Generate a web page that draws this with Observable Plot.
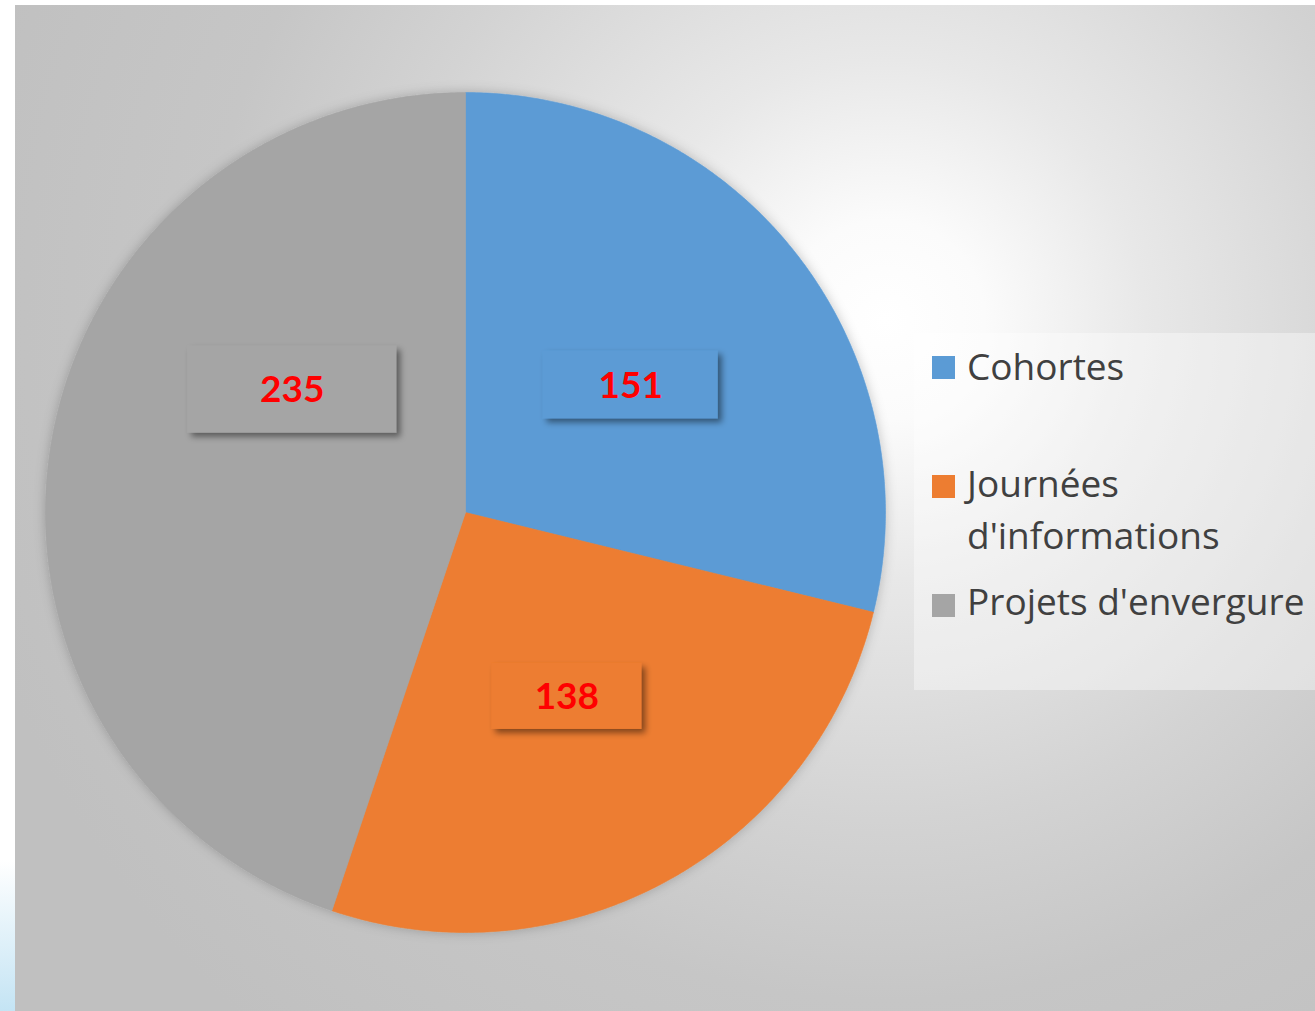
<!DOCTYPE html>
<html>
<head>
<meta charset="utf-8">
<script src="https://cdn.jsdelivr.net/npm/d3@7"></script>
<script src="https://cdn.jsdelivr.net/npm/@observablehq/plot@0.6"></script>
<style>
  html, body { margin: 0; padding: 0; background: #ffffff; }
  #page { position: relative; width: 1315px; height: 1011px; overflow: hidden; }
  #edge { position: absolute; left: 0; top: 860px; width: 15px; height: 151px;
          background: linear-gradient(to bottom, #ffffff, #c4e4f4); }
  #bg { position: absolute; left: 15px; top: 5px; width: 1300px; height: 1006px;
        background: radial-gradient(circle at 870px 315px, #ffffff 0px, #fbfbfb 100px, #e8e8e8 260px, #d3d3d3 500px, #c6c6c6 680px, #c0c0c0 950px); }
  #chart { position: absolute; left: 0; top: 0; }
  #legend { position: absolute; left: 914px; top: 333px; width: 401px; height: 357px;
            background: rgba(255,255,255,0.38); }
  .sw { position: absolute; left: 18px; width: 23px; height: 23px; }
  .lab { position: absolute; left: 53px; width: 348px; font-family: "Open Sans", sans-serif;
         font-size: 37px; line-height: 52px; color: #404040; white-space: normal; }
</style>
</head>
<body>
<div id="page">
  <div id="edge"></div>
  <div id="bg"></div>
  <div id="chart"></div>
  <div id="legend"></div>
</div>
<script>
// ---- data ----
const categories = ["Cohortes", "Journées d'informations", "Projets d'envergure"];
const values = [151, 138, 235];
const colors = ["#5B9BD5", "#ED7D31", "#A5A5A5"];

// ---- pie geometry (start at 12 o'clock, clockwise) ----
const total = d3.sum(values);
let acc = 0;
const slices = categories.map((c, i) => {
  const a0 = acc / total * 2 * Math.PI;
  acc += values[i];
  const a1 = acc / total * 2 * Math.PI;
  return {category: c, value: values[i], a0, a1, mid: (a0 + a1) / 2};
});
const pts = [];
for (const s of slices) {
  pts.push({category: s.category, x: 0, y: 0});
  const n = Math.max(2, Math.ceil((s.a1 - s.a0) / (Math.PI / 360)));
  for (let k = 0; k <= n; k++) {
    const a = s.a0 + (s.a1 - s.a0) * k / n;
    pts.push({category: s.category, x: Math.sin(a), y: Math.cos(a)});
  }
  pts.push({category: s.category, x: 0, y: 0});
}

// label placement (Excel-like), sizes in px converted to data units
const PX = 420; // px per data unit (radius)
const boxW = [175, 150, 209], boxH = [68, 66, 87];
const nudge = [[0, 2], [0, 0], [34, -89]]; // px
const labels = slices.map((s, i) => {
  const cx = 0.5 * Math.sin(s.mid) + nudge[i][0] / PX;
  const cy = 0.5 * Math.cos(s.mid) - nudge[i][1] / PX;
  return {category: s.category, value: s.value, cx, cy,
          x1: cx - boxW[i] / 2 / PX, x2: cx + boxW[i] / 2 / PX,
          y1: cy - boxH[i] / 2 / PX, y2: cy + boxH[i] / 2 / PX};
});

const plot = Plot.plot({
  width: 1315, height: 1011,
  marginLeft: 45, marginRight: 430, marginTop: 92, marginBottom: 79,
  x: {domain: [-1, 1], axis: null},
  y: {domain: [-1, 1], axis: null},
  color: {domain: categories, range: colors},
  style: {background: "transparent", overflow: "visible"},
  marks: [
    Plot.line(pts, {x: "x", y: "y", z: "category", fill: "category", stroke: "category",
                    strokeWidth: 0.6, curve: "linear-closed"}),
    Plot.rect(labels, {x1: "x1", x2: "x2", y1: "y1", y2: "y2", fill: "category"}),
    Plot.text(labels, {x: "cx", y: "cy", text: d => String(d.value), fill: "#FF0000",
                       fontSize: 37, fontWeight: "bold", fontFamily: "Lato, sans-serif", dy: 1})
  ]
});

// shadows
const ns = "http://www.w3.org/2000/svg";
const defs = document.createElementNS(ns, "defs");
defs.innerHTML = `
  <filter id="pieShadow" x="-10%" y="-10%" width="120%" height="120%">
    <feDropShadow dx="0" dy="0" stdDeviation="6" flood-color="#000" flood-opacity="0.22"/>
  </filter>
  <filter id="boxShadow" x="-20%" y="-30%" width="150%" height="170%">
    <feDropShadow dx="4" dy="4" stdDeviation="3" flood-color="#000" flood-opacity="0.45"/>
  </filter>`;
plot.insertBefore(defs, plot.firstChild);
const lineG = plot.querySelector('g[aria-label="line"]');
if (lineG) lineG.setAttribute("filter", "url(#pieShadow)");
const rectG = plot.querySelector('g[aria-label="rect"]');
if (rectG) rectG.setAttribute("filter", "url(#boxShadow)");

document.getElementById("chart").appendChild(plot);

// legend (HTML), positions relative to legend box
const legend = document.getElementById("legend");
const itemTops = [7, 124, 242];
const swTops = [23, 142, 261];
categories.forEach((c, i) => {
  const sw = document.createElement("div");
  sw.className = "sw";
  sw.style.top = swTops[i] + "px";
  sw.style.background = colors[i];
  legend.appendChild(sw);
  const lab = document.createElement("div");
  lab.className = "lab";
  lab.style.top = itemTops[i] + "px";
  lab.textContent = c;
  legend.appendChild(lab);
});
</script>
</body>
</html>
